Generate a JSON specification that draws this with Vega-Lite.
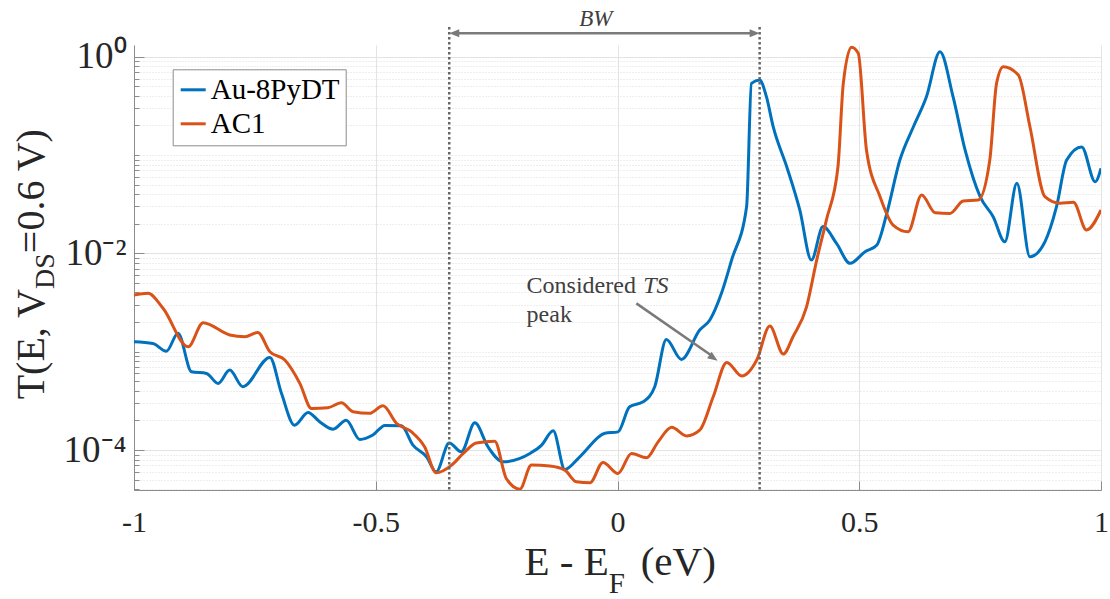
{
  "$schema": "https://vega.github.io/schema/vega-lite/v6.json",
  "width": 967,
  "height": 445,
  "autosize": {"type": "none"},
  "padding": {"left": 134, "top": 45, "right": 9, "bottom": 109},
  "background": "white",
  "config": {
    "view": {"stroke": null},
    "font": "Liberation Serif",
    "legend": {
      "orient": "none",
      "legendX": 38.7,
      "legendY": 24.3,
      "fillColor": "white",
      "strokeColor": "#8c8c8c",
      "padding": 6,
      "labelFont": "Liberation Serif",
      "labelFontSize": 29,
      "labelColor": "#000000",
      "labelOffset": 3,
      "symbolType": "stroke",
      "symbolSize": 625,
      "symbolStrokeWidth": 3,
      "rowPadding": 4,
      "title": null
    }
  },
  "datasets": {
    "curves": [
      {"E": -1.0, "T": 1.26e-3, "s": "Au-8PyDT"},
      {"E": -0.961, "T": 1.21e-3, "s": "Au-8PyDT"},
      {"E": -0.933, "T": 1.01e-3, "s": "Au-8PyDT"},
      {"E": -0.909, "T": 1.54e-3, "s": "Au-8PyDT"},
      {"E": -0.881, "T": 6.25e-4, "s": "Au-8PyDT"},
      {"E": -0.850, "T": 6.01e-4, "s": "Au-8PyDT"},
      {"E": -0.826, "T": 4.76e-4, "s": "Au-8PyDT"},
      {"E": -0.802, "T": 6.50e-4, "s": "Au-8PyDT"},
      {"E": -0.775, "T": 4.40e-4, "s": "Au-8PyDT"},
      {"E": -0.719, "T": 8.75e-4, "s": "Au-8PyDT"},
      {"E": -0.695, "T": 3.77e-4, "s": "Au-8PyDT"},
      {"E": -0.668, "T": 1.79e-4, "s": "Au-8PyDT"},
      {"E": -0.640, "T": 2.41e-4, "s": "Au-8PyDT"},
      {"E": -0.616, "T": 1.94e-4, "s": "Au-8PyDT"},
      {"E": -0.588, "T": 1.63e-4, "s": "Au-8PyDT"},
      {"E": -0.561, "T": 2.01e-4, "s": "Au-8PyDT"},
      {"E": -0.533, "T": 1.28e-4, "s": "Au-8PyDT"},
      {"E": -0.506, "T": 1.42e-4, "s": "Au-8PyDT"},
      {"E": -0.481, "T": 1.78e-4, "s": "Au-8PyDT"},
      {"E": -0.447, "T": 1.76e-4, "s": "Au-8PyDT"},
      {"E": -0.423, "T": 1.12e-4, "s": "Au-8PyDT"},
      {"E": -0.395, "T": 8.53e-5, "s": "Au-8PyDT"},
      {"E": -0.375, "T": 6.00e-5, "s": "Au-8PyDT"},
      {"E": -0.348, "T": 1.18e-4, "s": "Au-8PyDT"},
      {"E": -0.323, "T": 9.59e-5, "s": "Au-8PyDT"},
      {"E": -0.295, "T": 1.89e-4, "s": "Au-8PyDT"},
      {"E": -0.268, "T": 1.08e-4, "s": "Au-8PyDT"},
      {"E": -0.237, "T": 7.59e-5, "s": "Au-8PyDT"},
      {"E": -0.181, "T": 9.23e-5, "s": "Au-8PyDT"},
      {"E": -0.157, "T": 1.12e-4, "s": "Au-8PyDT"},
      {"E": -0.133, "T": 1.57e-4, "s": "Au-8PyDT"},
      {"E": -0.109, "T": 6.35e-5, "s": "Au-8PyDT"},
      {"E": -0.078, "T": 8.53e-5, "s": "Au-8PyDT"},
      {"E": -0.026, "T": 1.48e-4, "s": "Au-8PyDT"},
      {"E": 0.001, "T": 1.53e-4, "s": "Au-8PyDT"},
      {"E": 0.025, "T": 2.75e-4, "s": "Au-8PyDT"},
      {"E": 0.053, "T": 3.09e-4, "s": "Au-8PyDT"},
      {"E": 0.077, "T": 4.40e-4, "s": "Au-8PyDT"},
      {"E": 0.101, "T": 1.33e-3, "s": "Au-8PyDT"},
      {"E": 0.132, "T": 8.35e-4, "s": "Au-8PyDT"},
      {"E": 0.170, "T": 1.66e-3, "s": "Au-8PyDT"},
      {"E": 0.191, "T": 2.10e-3, "s": "Au-8PyDT"},
      {"E": 0.215, "T": 3.92e-3, "s": "Au-8PyDT"},
      {"E": 0.236, "T": 8.55e-3, "s": "Au-8PyDT"},
      {"E": 0.267, "T": 2.98e-2, "s": "Au-8PyDT"},
      {"E": 0.277, "T": 0.536, "s": "Au-8PyDT"},
      {"E": 0.294, "T": 0.579, "s": "Au-8PyDT"},
      {"E": 0.308, "T": 0.392, "s": "Au-8PyDT"},
      {"E": 0.322, "T": 0.194, "s": "Au-8PyDT"},
      {"E": 0.350, "T": 7.60e-2, "s": "Au-8PyDT"},
      {"E": 0.377, "T": 2.76e-2, "s": "Au-8PyDT"},
      {"E": 0.401, "T": 8.55e-3, "s": "Au-8PyDT"},
      {"E": 0.425, "T": 1.87e-2, "s": "Au-8PyDT"},
      {"E": 0.453, "T": 1.26e-2, "s": "Au-8PyDT"},
      {"E": 0.481, "T": 7.91e-3, "s": "Au-8PyDT"},
      {"E": 0.512, "T": 1.04e-2, "s": "Au-8PyDT"},
      {"E": 0.536, "T": 1.21e-2, "s": "Au-8PyDT"},
      {"E": 0.557, "T": 2.55e-2, "s": "Au-8PyDT"},
      {"E": 0.584, "T": 8.89e-2, "s": "Au-8PyDT"},
      {"E": 0.612, "T": 0.194, "s": "Au-8PyDT"},
      {"E": 0.639, "T": 0.392, "s": "Au-8PyDT"},
      {"E": 0.667, "T": 1.12, "s": "Au-8PyDT"},
      {"E": 0.694, "T": 0.392, "s": "Au-8PyDT"},
      {"E": 0.719, "T": 0.112, "s": "Au-8PyDT"},
      {"E": 0.750, "T": 3.77e-2, "s": "Au-8PyDT"},
      {"E": 0.777, "T": 2.36e-2, "s": "Au-8PyDT"},
      {"E": 0.801, "T": 1.31e-2, "s": "Au-8PyDT"},
      {"E": 0.826, "T": 5.15e-2, "s": "Au-8PyDT"},
      {"E": 0.853, "T": 9.23e-3, "s": "Au-8PyDT"},
      {"E": 0.884, "T": 1.31e-2, "s": "Au-8PyDT"},
      {"E": 0.908, "T": 2.98e-2, "s": "Au-8PyDT"},
      {"E": 0.929, "T": 8.89e-2, "s": "Au-8PyDT"},
      {"E": 0.960, "T": 0.121, "s": "Au-8PyDT"},
      {"E": 0.988, "T": 5.35e-2, "s": "Au-8PyDT"},
      {"E": 1.0, "T": 7.32e-2, "s": "Au-8PyDT"},
      {"E": -1.0, "T": 3.77e-3, "s": "AC1"},
      {"E": -0.971, "T": 3.92e-3, "s": "AC1"},
      {"E": -0.940, "T": 2.76e-3, "s": "AC1"},
      {"E": -0.888, "T": 1.12e-3, "s": "AC1"},
      {"E": -0.857, "T": 1.97e-3, "s": "AC1"},
      {"E": -0.802, "T": 1.48e-3, "s": "AC1"},
      {"E": -0.771, "T": 1.42e-3, "s": "AC1"},
      {"E": -0.744, "T": 1.57e-3, "s": "AC1"},
      {"E": -0.719, "T": 9.97e-4, "s": "AC1"},
      {"E": -0.688, "T": 8.22e-4, "s": "AC1"},
      {"E": -0.657, "T": 4.76e-4, "s": "AC1"},
      {"E": -0.633, "T": 2.65e-4, "s": "AC1"},
      {"E": -0.599, "T": 2.69e-4, "s": "AC1"},
      {"E": -0.571, "T": 3.02e-4, "s": "AC1"},
      {"E": -0.547, "T": 2.45e-4, "s": "AC1"},
      {"E": -0.513, "T": 2.36e-4, "s": "AC1"},
      {"E": -0.485, "T": 2.82e-4, "s": "AC1"},
      {"E": -0.457, "T": 1.87e-4, "s": "AC1"},
      {"E": -0.426, "T": 1.53e-4, "s": "AC1"},
      {"E": -0.399, "T": 1.08e-4, "s": "AC1"},
      {"E": -0.375, "T": 5.86e-5, "s": "AC1"},
      {"E": -0.343, "T": 7.02e-5, "s": "AC1"},
      {"E": -0.319, "T": 9.23e-5, "s": "AC1"},
      {"E": -0.292, "T": 1.18e-4, "s": "AC1"},
      {"E": -0.254, "T": 1.23e-4, "s": "AC1"},
      {"E": -0.230, "T": 5.14e-5, "s": "AC1"},
      {"E": -0.202, "T": 4.0e-5, "s": "AC1"},
      {"E": -0.178, "T": 7.02e-5, "s": "AC1"},
      {"E": -0.140, "T": 6.86e-5, "s": "AC1"},
      {"E": -0.109, "T": 6.24e-5, "s": "AC1"},
      {"E": -0.085, "T": 4.75e-5, "s": "AC1"},
      {"E": -0.057, "T": 4.64e-5, "s": "AC1"},
      {"E": -0.030, "T": 7.48e-5, "s": "AC1"},
      {"E": 0.001, "T": 5.78e-5, "s": "AC1"},
      {"E": 0.029, "T": 9.23e-5, "s": "AC1"},
      {"E": 0.060, "T": 8.34e-5, "s": "AC1"},
      {"E": 0.084, "T": 1.21e-4, "s": "AC1"},
      {"E": 0.112, "T": 1.70e-4, "s": "AC1"},
      {"E": 0.143, "T": 1.39e-4, "s": "AC1"},
      {"E": 0.170, "T": 1.59e-4, "s": "AC1"},
      {"E": 0.198, "T": 3.48e-4, "s": "AC1"},
      {"E": 0.226, "T": 7.78e-4, "s": "AC1"},
      {"E": 0.257, "T": 5.65e-4, "s": "AC1"},
      {"E": 0.288, "T": 8.22e-4, "s": "AC1"},
      {"E": 0.315, "T": 1.82e-3, "s": "AC1"},
      {"E": 0.343, "T": 9.46e-4, "s": "AC1"},
      {"E": 0.363, "T": 1.42e-3, "s": "AC1"},
      {"E": 0.391, "T": 2.86e-3, "s": "AC1"},
      {"E": 0.412, "T": 8.55e-3, "s": "AC1"},
      {"E": 0.432, "T": 2.18e-2, "s": "AC1"},
      {"E": 0.456, "T": 7.60e-2, "s": "AC1"},
      {"E": 0.467, "T": 0.536, "s": "AC1"},
      {"E": 0.484, "T": 1.25, "s": "AC1"},
      {"E": 0.498, "T": 1.08, "s": "AC1"},
      {"E": 0.515, "T": 0.112, "s": "AC1"},
      {"E": 0.543, "T": 3.77e-2, "s": "AC1"},
      {"E": 0.570, "T": 1.94e-2, "s": "AC1"},
      {"E": 0.601, "T": 1.66e-2, "s": "AC1"},
      {"E": 0.629, "T": 3.92e-2, "s": "AC1"},
      {"E": 0.657, "T": 2.59e-2, "s": "AC1"},
      {"E": 0.688, "T": 2.55e-2, "s": "AC1"},
      {"E": 0.715, "T": 3.40e-2, "s": "AC1"},
      {"E": 0.746, "T": 3.48e-2, "s": "AC1"},
      {"E": 0.770, "T": 8.89e-2, "s": "AC1"},
      {"E": 0.784, "T": 0.536, "s": "AC1"},
      {"E": 0.798, "T": 0.791, "s": "AC1"},
      {"E": 0.829, "T": 0.651, "s": "AC1"},
      {"E": 0.853, "T": 0.194, "s": "AC1"},
      {"E": 0.884, "T": 3.77e-2, "s": "AC1"},
      {"E": 0.915, "T": 3.23e-2, "s": "AC1"},
      {"E": 0.943, "T": 3.30e-2, "s": "AC1"},
      {"E": 0.970, "T": 1.73e-2, "s": "AC1"},
      {"E": 1.0, "T": 2.76e-2, "s": "AC1"}
    ],
    "bw": [{"E": -0.348}, {"E": 0.294}],
    "one": [{}]
  },
  "resolve": {"axis": {"y": "independent"}},
  "layer": [
    {
      "data": {"name": "curves"},
      "mark": {"type": "line", "interpolate": "monotone", "strokeWidth": 3, "clip": true},
      "encoding": {
        "x": {
          "field": "E", "type": "quantitative",
          "scale": {"domain": [-1, 1], "nice": false, "zero": false},
          "axis": {
            "values": [-1, -0.5, 0, 0.5, 1],
            "labelExpr": "'' + datum.value",
            "title": null,
            "grid": true, "gridColor": "#e3e3e3", "gridWidth": 1,
            "domainColor": "#8c8c8c", "domainWidth": 1,
            "tickColor": "#8c8c8c", "tickSize": -9, "tickWidth": 1,
            "labelFont": "Liberation Serif", "labelFontSize": 30, "labelColor": "#262626",
            "labelPadding": 26, "labelFlush": false, "labelOverlap": false
          }
        },
        "y": {
          "field": "T", "type": "quantitative",
          "scale": {"type": "log", "domain": [3.92e-5, 1.315], "nice": false},
          "axis": {
            "orient": "left",
            "values": [0.0001, 0.01, 1],
            "labelExpr": "datum.value == 1 ? '10⁰' : datum.value == 0.01 ? '10⁻²' : '10⁻⁴'",
            "title": null,
            "grid": true, "gridColor": "#e3e3e3", "gridWidth": 1,
            "domainColor": "#8c8c8c", "domainWidth": 1,
            "tickColor": "#8c8c8c", "tickSize": -10, "tickWidth": 1,
            "labelFont": "Liberation Serif", "labelFontSize": 37, "labelColor": "#262626",
            "labelPadding": 18, "labelFlush": false, "labelOverlap": false
          }
        },
        "color": {
          "field": "s", "type": "nominal",
          "scale": {"domain": ["Au-8PyDT", "AC1"], "range": ["#0072BD", "#D95319"]},
          "legend": {"title": null}
        }
      }
    },
    {
      "data": {"name": "bw"},
      "mark": {"type": "rule", "color": "#666666", "strokeWidth": 2.5, "strokeDash": [2.5, 2.5]},
      "encoding": {
        "x": {"field": "E", "type": "quantitative"},
        "y": {
          "datum": 2.0, "type": "quantitative",
          "axis": {
            "orient": "left",
            "values": [4e-5, 5e-5, 6e-5, 7e-5, 8e-5, 9e-5, 2e-4, 3e-4, 4e-4, 5e-4, 6e-4, 7e-4, 8e-4, 9e-4, 1e-3, 2e-3, 3e-3, 4e-3, 5e-3, 6e-3, 7e-3, 8e-3, 9e-3, 2e-2, 3e-2, 4e-2, 5e-2, 6e-2, 7e-2, 8e-2, 9e-2, 0.1, 0.2, 0.3, 0.4, 0.5, 0.6, 0.7, 0.8, 0.9],
            "labels": false, "domain": false, "title": null,
            "grid": true, "gridColor": "#dcdcdc", "gridWidth": 1, "gridDash": [1, 2],
            "tickColor": "#8c8c8c", "tickSize": -5, "tickWidth": 1
          }
        },
        "y2": {"datum": 3.92e-5}
      }
    },
    {
      "data": {"name": "one"},
      "mark": {"type": "rule", "color": "#7a7a7a", "strokeWidth": 2.5},
      "encoding": {
        "x": {"datum": -0.34},
        "x2": {"datum": 0.286},
        "y": {"datum": 1.73, "type": "quantitative", "axis": null}
      }
    },
    {
      "data": {"name": "one"},
      "mark": {"type": "point", "shape": "M0,0L2,-0.8L2,0.8Z", "filled": true, "size": 100, "color": "#7a7a7a", "opacity": 1},
      "encoding": {
        "x": {"datum": -0.348},
        "y": {"datum": 1.73, "type": "quantitative", "axis": null}
      }
    },
    {
      "data": {"name": "one"},
      "mark": {"type": "point", "shape": "M0,0L-2,-0.8L-2,0.8Z", "filled": true, "size": 100, "color": "#7a7a7a", "opacity": 1},
      "encoding": {
        "x": {"datum": 0.294},
        "y": {"datum": 1.73, "type": "quantitative", "axis": null}
      }
    },
    {
      "data": {"name": "one"},
      "mark": {"type": "text", "text": "BW", "font": "Liberation Serif", "fontSize": 23, "fontStyle": "italic", "color": "#404040", "align": "center", "baseline": "alphabetic"},
      "encoding": {
        "x": {"datum": -0.045},
        "y": {"datum": 2.05, "type": "quantitative", "axis": null}
      }
    },
    {
      "data": {"name": "one"},
      "mark": {"type": "rule", "color": "#7a7a7a", "strokeWidth": 2.5},
      "encoding": {
        "x": {"datum": 0.039},
        "x2": {"datum": 0.198},
        "y": {"datum": 3.1e-3, "type": "quantitative", "axis": null},
        "y2": {"datum": 8.9e-4}
      }
    },
    {
      "data": {"name": "one"},
      "mark": {"type": "point", "shape": "M0,0L-2,-0.8L-2,0.8Z", "filled": true, "size": 100, "color": "#7a7a7a", "opacity": 1, "angle": 35},
      "encoding": {
        "x": {"datum": 0.207},
        "y": {"datum": 8.1e-4, "type": "quantitative", "axis": null}
      }
    },
    {
      "data": {"name": "one"},
      "mark": {"type": "text", "text": "Considered", "font": "Liberation Serif", "fontSize": 24, "color": "#404040", "align": "left", "baseline": "alphabetic"},
      "encoding": {
        "x": {"datum": -0.188},
        "y": {"datum": 3.92e-3, "type": "quantitative", "axis": null}
      }
    },
    {
      "data": {"name": "one"},
      "mark": {"type": "text", "text": "TS", "font": "Liberation Serif", "fontSize": 24, "fontStyle": "italic", "color": "#404040", "align": "left", "baseline": "alphabetic"},
      "encoding": {
        "x": {"datum": 0.053},
        "y": {"datum": 3.92e-3, "type": "quantitative", "axis": null}
      }
    },
    {
      "data": {"name": "one"},
      "mark": {"type": "text", "text": "peak", "font": "Liberation Serif", "fontSize": 24, "color": "#404040", "align": "left", "baseline": "alphabetic"},
      "encoding": {
        "x": {"datum": -0.188},
        "y": {"datum": 2.01e-3, "type": "quantitative", "axis": null}
      }
    },
    {
      "data": {"name": "one"},
      "mark": {"type": "text", "text": "E - E", "font": "Liberation Serif", "fontSize": 41, "color": "#262626", "align": "right", "baseline": "alphabetic"},
      "encoding": {
        "x": {"datum": -0.018},
        "y": {"datum": 5.34e-6, "type": "quantitative", "axis": null}
      }
    },
    {
      "data": {"name": "one"},
      "mark": {"type": "text", "text": "F", "font": "Liberation Serif", "fontSize": 29, "color": "#262626", "align": "left", "baseline": "alphabetic"},
      "encoding": {
        "x": {"datum": -0.018},
        "y": {"datum": 3.5e-6, "type": "quantitative", "axis": null}
      }
    },
    {
      "data": {"name": "one"},
      "mark": {"type": "text", "text": "(eV)", "font": "Liberation Serif", "fontSize": 41, "color": "#262626", "align": "left", "baseline": "alphabetic"},
      "encoding": {
        "x": {"datum": 0.048},
        "y": {"datum": 5.34e-6, "type": "quantitative", "axis": null}
      }
    },
    {
      "data": {"name": "one"},
      "mark": {"type": "text", "text": "T(E, V", "font": "Liberation Serif", "fontSize": 40, "color": "#262626", "align": "right", "baseline": "alphabetic", "angle": 270},
      "encoding": {
        "x": {"datum": -1.187},
        "y": {"datum": 4.34e-3, "type": "quantitative", "axis": null}
      }
    },
    {
      "data": {"name": "one"},
      "mark": {"type": "text", "text": "DS", "font": "Liberation Serif", "fontSize": 28, "color": "#262626", "align": "left", "baseline": "alphabetic", "angle": 270},
      "encoding": {
        "x": {"datum": -1.166},
        "y": {"datum": 4.34e-3, "type": "quantitative", "axis": null}
      }
    },
    {
      "data": {"name": "one"},
      "mark": {"type": "text", "text": "=0.6 V)", "font": "Liberation Serif", "fontSize": 40, "color": "#262626", "align": "left", "baseline": "alphabetic", "angle": 270},
      "encoding": {
        "x": {"datum": -1.187},
        "y": {"datum": 1.005e-2, "type": "quantitative", "axis": null}
      }
    }
  ]
}
